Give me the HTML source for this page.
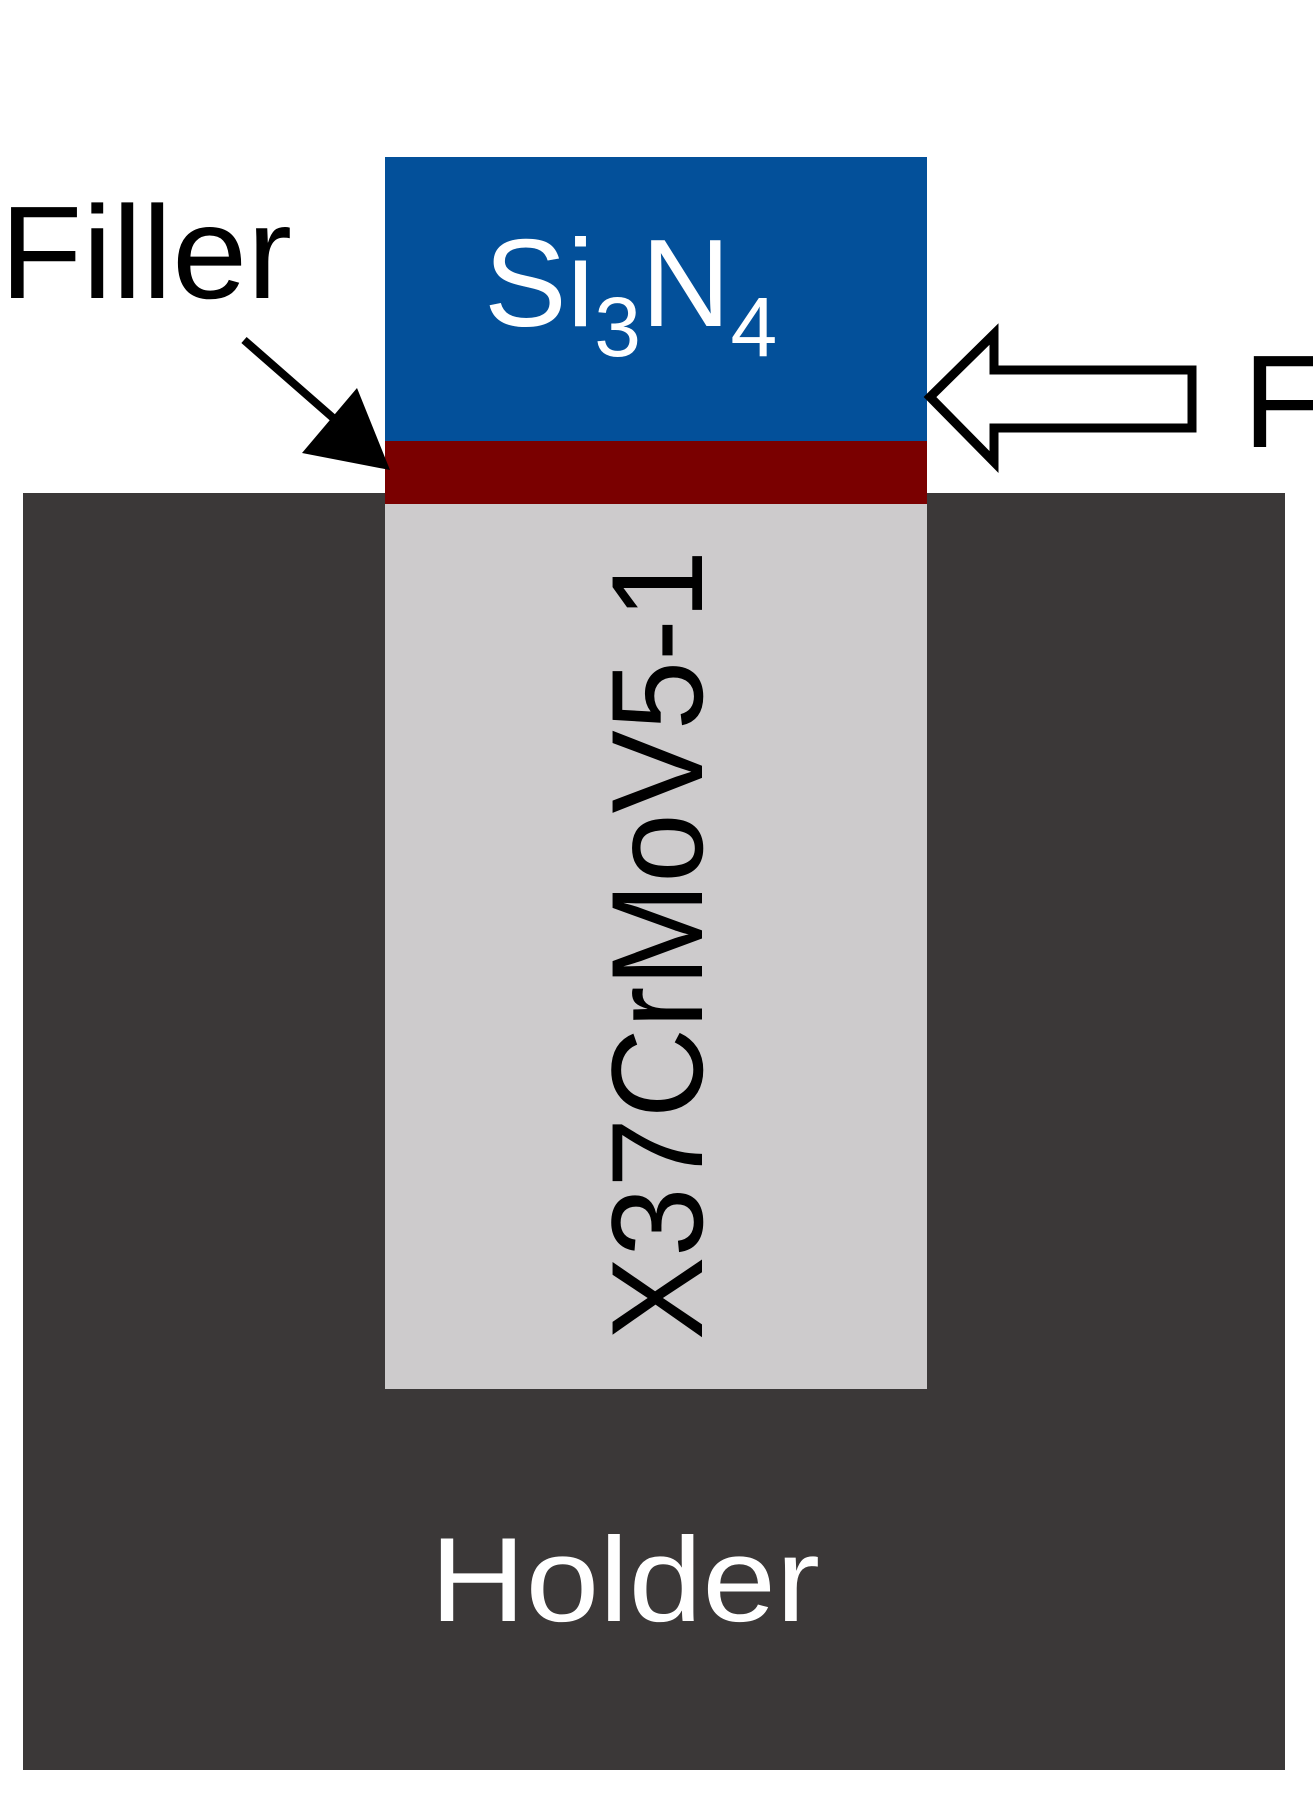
<!DOCTYPE html>
<html><head><meta charset="utf-8"><style>html,body{margin:0;padding:0;background:#fff}svg{display:block}</style></head>
<body>
<svg width="1313" height="1800" viewBox="0 0 1313 1800" xmlns="http://www.w3.org/2000/svg" font-family="'Liberation Sans', 'DejaVu Sans', sans-serif">
<rect x="23" y="493" width="1262" height="1277" fill="#3b3838"/>
<rect x="385" y="157" width="542" height="284" fill="#03509a"/>
<rect x="385" y="441" width="542" height="63" fill="#7a0000"/>
<rect x="385" y="504" width="542" height="885" fill="#cdcbcc"/>
<text x="0" y="298" font-size="132" fill="#000" textLength="292" lengthAdjust="spacingAndGlyphs">Filler</text>
<text x="484" y="326" font-size="124" fill="#fff">Si<tspan font-size="84" dy="30">3</tspan><tspan dy="-30">N</tspan><tspan font-size="84" dy="30">4</tspan></text>
<text x="1243" y="447" font-size="132" fill="#000">F</text>
<text x="430" y="1621" font-size="120" fill="#fff" textLength="390" lengthAdjust="spacingAndGlyphs">Holder</text>
<text transform="translate(702,945) rotate(-90)" font-size="130" fill="#000" text-anchor="middle" textLength="790" lengthAdjust="spacingAndGlyphs">X37CrMoV5-1</text>
<line x1="244" y1="340" x2="340" y2="424" stroke="#000" stroke-width="8"/>
<polygon points="390,470 302,453 357,388" fill="#000"/>
<polygon points="930,397 994,334 994,370 1192,370 1192,428 994,428 994,462" fill="#fff" stroke="#000" stroke-width="9" stroke-linejoin="miter"/>
</svg>
</body></html>
